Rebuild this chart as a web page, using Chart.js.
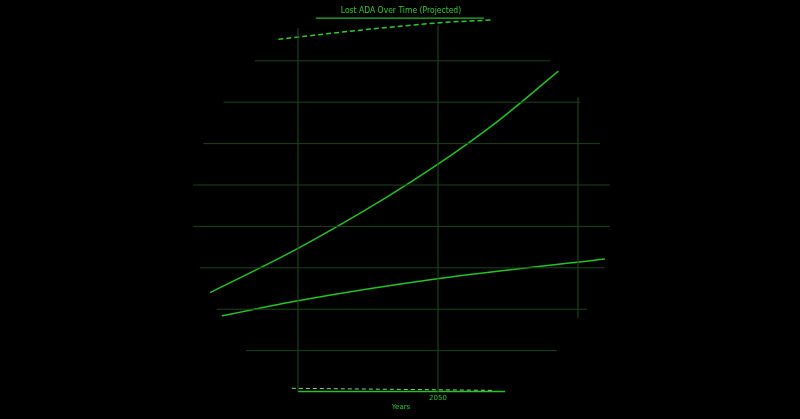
<!DOCTYPE html>
<html>
<head>
<meta charset="utf-8">
<script src="https://cdn.jsdelivr.net/npm/chart.js@4"></script>
<style>
html,body{margin:0;padding:0;background:#000;}
#wrap{width:800px;height:419px;position:relative;}
</style>
</head>
<body>
<div id="wrap"><canvas id="c"></canvas></div>
<script>
// ---- data ----
const titleText = "Lost ADA Over Time (Projected)";
const xAxisTitle = "Years";
const xTickLabels = [2050];

const upperYears  = [2009.3, 2025, 2041, 2050.2, 2060, 2071.5];
const upperValues = [24.0, 34.7, 47.2, 55.2, 64.7, 77.5];

const lowerYears  = [2011.4, 2025, 2050.2, 2079.8];
const lowerValues = [18.4, 22.05, 27.4, 32.1];

const topDashYears  = [2021.5, 2036.1, 2050.4, 2059.9];
const topDashValues = [85.2, 87.4, 89.2, 89.9];

const underlineYears  = [2028.2, 2058.2];
const underlineValues = [90.3, 90.3];

const bottomDashYears  = [2023.9, 2060];
const bottomDashValues = [0.9, 0.4];

const baseYears  = [2025, 2062];
const baseValues = [0.15, 0.15];

const hGridValues = [80, 70, 60, 50, 40, 30, 20, 10];
const hGridStart  = [2017.3, 2011.7, 2008.1, 2006.3, 2006.3, 2007.5, 2010.5, 2015.8];
const hGridEnd    = [2070, 2075.4, 2078.9, 2080.7, 2080.7, 2079.8, 2076.6, 2071.2];

const vGridYears = [2025, 2050, 2075];
const vGridLow   = [0, 0, 17.9];
const vGridHigh  = [87.9, 88.6, 71.3];

// ---- build ----
const pts = (xs, ys) => xs.map((x, i) => ({x, y: ys[i]}));
const GRID = '#1a451a';
const datasets = [];

hGridValues.forEach((v, i) => {
  datasets.push({data: [{x: hGridStart[i], y: v}, {x: hGridEnd[i], y: v}],
    borderColor: GRID, borderWidth: 1, pointRadius: 0});
});
vGridYears.forEach((yr, i) => {
  datasets.push({data: [{x: yr, y: vGridLow[i]}, {x: yr, y: vGridHigh[i]}],
    borderColor: '#1e501e', borderWidth: 1, pointRadius: 0});
});

datasets.push({data: pts(upperYears, upperValues), borderColor: '#22c322', borderWidth: 1.5,
  pointRadius: 0, cubicInterpolationMode: 'monotone'});
datasets.push({data: pts(lowerYears, lowerValues), borderColor: '#22c322', borderWidth: 1.5,
  pointRadius: 0, cubicInterpolationMode: 'monotone'});
datasets.push({data: pts(topDashYears, topDashValues), borderColor: '#2ccc2c', borderWidth: 1.5,
  pointRadius: 0, borderDash: [5, 3], cubicInterpolationMode: 'monotone'});
datasets.push({data: pts(underlineYears, underlineValues), borderColor: '#22b822', borderWidth: 1.2,
  pointRadius: 0});
datasets.push({data: pts(bottomDashYears, bottomDashValues), borderColor: '#8fcf8f', borderWidth: 1,
  pointRadius: 0, borderDash: [4, 3]});
datasets.push({data: pts(baseYears, baseValues), borderColor: '#22c322', borderWidth: 1.5,
  pointRadius: 0});

const textPlugin = {
  id: 'texts',
  afterDraw(chart) {
    const ctx = chart.ctx;
    const xs = chart.scales.x;
    ctx.save();
    ctx.fillStyle = '#2ccc2c';
    ctx.textAlign = 'center';
    ctx.textBaseline = 'middle';
    ctx.font = '8.5px "DejaVu Sans Condensed", "Liberation Sans Narrow", "DejaVu Sans", sans-serif';
    ctx.fillText(titleText, 401, 11);
    ctx.font = '7px "DejaVu Sans", sans-serif';
    xTickLabels.forEach(t => ctx.fillText(String(t), xs.getPixelForValue(t), 398.5));
    ctx.fillText(xAxisTitle, 401, 407.5);
    ctx.restore();
  }
};

new Chart(document.getElementById('c'), {
  type: 'scatter',
  data: {datasets: datasets.map(d => Object.assign({showLine: true, fill: false}, d))},
  options: {
    responsive: true,
    maintainAspectRatio: false,
    animation: false,
    layout: {padding: 0},
    plugins: {legend: {display: false}, title: {display: false}, tooltip: {enabled: false}},
    scales: {
      x: {type: 'linear', min: 1971.79, max: 2114.64, display: false},
      y: {type: 'linear', min: -6.52, max: 94.69, display: false}
    }
  },
  plugins: [textPlugin]
});
</script>
</body>
</html>
